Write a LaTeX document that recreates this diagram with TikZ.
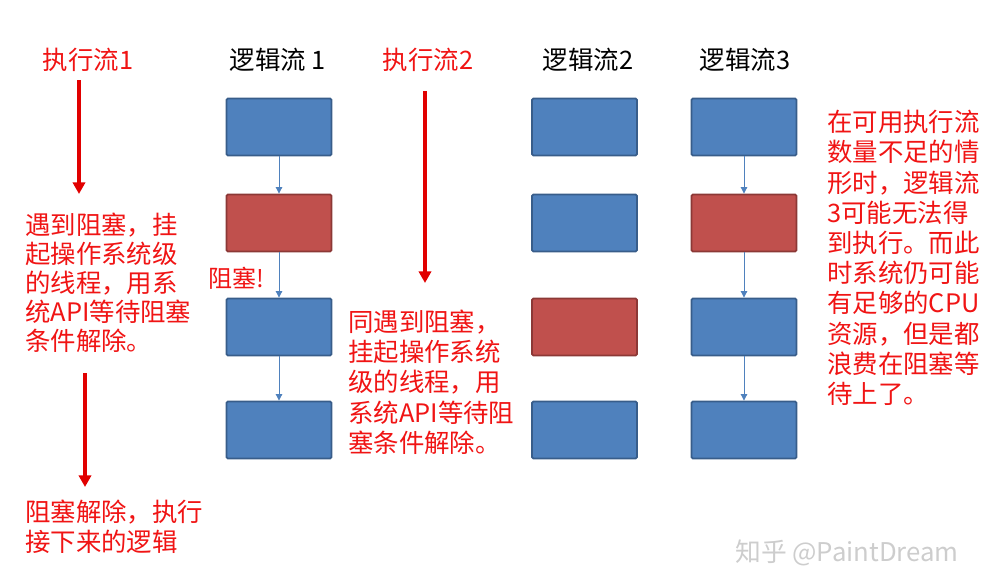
\documentclass[tikz,border=0pt]{standalone}
\usepackage{fontspec}
\newfontfamily\cjk{Noto Sans CJK SC}
\usetikzlibrary{arrows.meta}
\definecolor{bfill}{RGB}{79,129,189}
\definecolor{bdraw}{RGB}{56,93,138}
\definecolor{rfill}{RGB}{192,80,77}
\definecolor{rdraw}{RGB}{140,56,54}
\definecolor{txtred}{RGB}{240,20,20}
\definecolor{arrred}{RGB}{225,0,0}
\definecolor{wmgray}{RGB}{205,205,205}
\tikzset{
  px/.style={x=0.03cm,y=-0.03cm},
  bluebox/.style={draw=bdraw,fill=bfill,line width=1.6pt,rounded corners=1.2pt,minimum width=3.15cm,minimum height=1.71cm,inner sep=0pt},
  redbox/.style={bluebox,draw=rdraw,fill=rfill},
  flowarrow/.style={draw=bfill,line width=0.8pt,-{Triangle[width=5.5pt,length=5.5pt]}},
  bigarrow/.style={draw=arrred,line width=3pt,-{Triangle[width=10.5pt,length=10pt]}},
  head/.style={font=\cjk\fontsize{21.7pt}{25pt}\selectfont,inner sep=0pt},
  note/.style={font=\cjk\fontsize{21.7pt}{#1}\selectfont,text=txtred,align=left,anchor=north west,inner sep=0pt},
}
\begin{document}
\begin{tikzpicture}[px]
\useasboundingbox (0,0) rectangle (999,578);
% headers
\node[head,text=txtred] (h1) at (88,60) {执行流1};
\node[head] (l1) at (278,60) {逻辑流 1};
\node[head,text=txtred] (h2) at (428,60) {执行流2};
\node[head] (l2) at (588,60) {逻辑流2};
\node[head] (l3) at (745,60) {逻辑流3};
% column 1
\node[bluebox] (a1) at (279,127) {};
\node[redbox]  (a2) at (279,223) {};
\node[bluebox] (a3) at (279,327) {};
\node[bluebox] (a4) at (279,430) {};
% column 2
\node[bluebox] (b1) at (584.5,127) {};
\node[bluebox] (b2) at (584.5,223) {};
\node[redbox]  (b3) at (584.5,327) {};
\node[bluebox] (b4) at (584.5,430) {};
% column 3
\node[bluebox] (c1) at (744,127) {};
\node[redbox]  (c2) at (744,223) {};
\node[bluebox] (c3) at (744,327) {};
\node[bluebox] (c4) at (744,430) {};
% flow arrows
\draw[flowarrow] (a1) -- (a2);
\draw[flowarrow] (a2) -- (a3);
\draw[flowarrow] (a3) -- (a4);
\draw[flowarrow] (c1) -- (c2);
\draw[flowarrow] (c2) -- (c3);
\draw[flowarrow] (c3) -- (c4);
% big red arrows
\coordinate (e1s) at (79,80);
\coordinate (e1e) at (79,194);
\coordinate (e2s) at (85,373);
\coordinate (e2e) at (85,487);
\coordinate (e3s) at (425,91);
\coordinate (e3e) at (425,283);
\draw[bigarrow] (e1s) -- (e1e);
\draw[bigarrow] (e2s) -- (e2e);
\draw[bigarrow] (e3s) -- (e3e);
% notes
\node[note=24.7pt] (n1) at (25,213) {遇到阻塞，挂\\起操作系统级\\的线程，用系\\统API等待阻塞\\条件解除。};
\node[note=25.5pt] (n2) at (25,500) {阻塞解除，执行\\接下来的逻辑};
\node[note=25.7pt] (n3) at (348,310) {同遇到阻塞，\\挂起操作系统\\级的线程，用\\系统API等待阻\\塞条件解除。};
\node[note=25.8pt] (n4) at (827,110) {在可用执行流\\数量不足的情\\形时，逻辑流\\3可能无法得\\到执行。而此\\时系统仍可能\\有足够的CPU\\资源，但是都\\浪费在阻塞等\\待上了。};
\node[font=\cjk\fontsize{20.5pt}{24pt}\selectfont,text=txtred,inner sep=0pt] (blk) at (236,278) {阻塞!};
% watermark
\node[font=\cjk\fontsize{22pt}{26pt}\selectfont,text=wmgray,inner sep=0pt] (wm) at (847,553) {知乎 @PaintDream};
\end{tikzpicture}
\end{document}
